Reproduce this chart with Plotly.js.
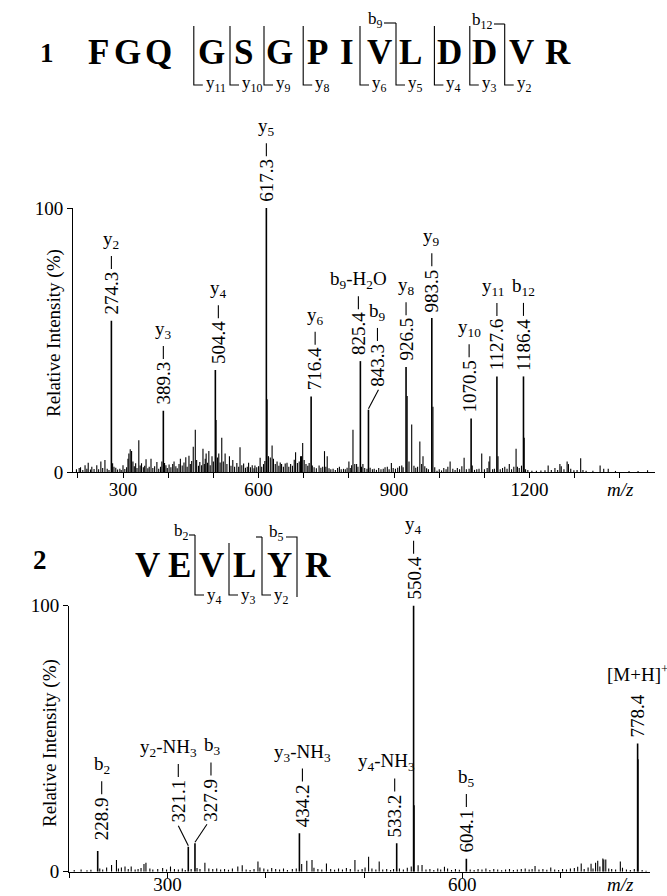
<!DOCTYPE html>
<html><head><meta charset="utf-8">
<script src="https://cdn.plot.ly/plotly-3.0.1.min.js"></script>
<style>html,body{margin:0;padding:0;background:#fff}</style>
</head><body><div id="chart" style="width:667px;height:896px"></div>
<script>
// ---------------- DATA ----------------
// Spectrum 1 : FGQGSGPIVLDDVR
const s1LabeledMz  = [274.3, 389.3, 504.4, 617.3, 716.4, 825.4, 843.3, 926.5, 983.5, 1070.5, 1127.6, 1186.4];
const s1LabeledInt = [57.3, 23.2, 38.6, 100, 28.6, 42.0, 23.6, 39.8, 58.3, 20.3, 36.2, 36.2];
const s1LabelText  = ['274.3','389.3','504.4','617.3','716.4','825.4','843.3','926.5','983.5','1070.5','1127.6','1186.4'];
const s1IonText    = ['y<sub>2</sub>','y<sub>3</sub>','y<sub>4</sub>','y<sub>5</sub>','y<sub>6</sub>','b<sub>9</sub>-H<sub>2</sub>O','b<sub>9</sub>','y<sub>8</sub>','y<sub>9</sub>','y<sub>10</sub>','y<sub>11</sub>','b<sub>12</sub>'];
const s1NoiseMz  = [197,203,206,211,216,220,223,228,231,236,242,246,251,255,260,265,269,277,280,284,288,293,296,300,304,308,311,313,316,319,322,325,328,331,335,338,341,345,348,351,355,358,362,366,370,375,379,383,386,392,395,398,402,406,410,413,417,420,424,427,431,435,439,442,446,449,452,455.5,460,463,467,470,474,477,480,482,484,487,490,493,497,500,506,509,512,515,518.6,522,526,530,535.6,539,543,547,552,556,559,563,567,571,575,578,582,586,590,592,596,600,603.5,607,611,614,619,622,626,630,633,637,641,645,648,651,655,659,663,667,671,675,679,682,686,690,693,695,697.7,701,705,709,712,719,723,728,734,738,742,746,749,752,756,760,765,770,775,779,783,788,792,796,800,803,806,809,813,817,820,828,831,835,840,847,852,856,861,866,871,876,880,885,889,894,898,903,908,912,917,920,929,933,939,944,948,952,957,961,964,968,972,976,986,990,995,1000,1005,1010,1015,1019,1024,1030,1035,1040,1045,1050,1055,1060,1066,1073,1078,1083,1088,1094,1100,1106,1110,1112,1118,1122,1130,1135,1140,1145,1150,1155,1160,1165,1170,1173,1177,1182,1188,1191,1196,1205,1215,1225,1234,1241,1248,1256,1262,1267,1270,1276,1283,1286,1291,1298,1305,1313,1318,1325,1340,1356,1364,1374,1390,1420,1440,1461];
const s1NoiseInt = [1.0,1.5,1.8,0.8,2.6,1.2,3.5,0.9,2.0,1.1,2.6,1.0,4.0,1.5,4.5,1.2,0.8,3.3,2.0,1.6,0.9,1.2,0.8,2.6,1.1,1.8,5.0,7.0,8.6,8.0,4.0,2.2,3.3,1.5,12.0,2.5,3.3,1.8,2.4,4.8,1.4,2.0,5.0,1.5,2.2,3.8,1.2,2.0,4.0,3.4,2.6,1.5,2.8,1.8,3.0,4.0,2.2,1.4,3.0,5.0,2.5,3.6,5.6,2.0,6.2,3.0,4.2,9.6,16.0,4.5,2.4,3.8,2.6,8.8,3.0,5.0,7.0,3.5,8.0,2.6,6.0,4.0,19.7,5.5,7.0,3.6,13.0,4.0,7.0,3.0,6.0,2.4,4.5,2.0,3.4,2.0,9.4,2.6,3.2,1.6,2.0,3.5,1.8,2.6,1.4,2.5,1.8,2.2,5.4,2.0,3.0,4.2,27.6,6.0,5.5,10.0,5.0,3.0,4.0,2.4,3.6,3.0,2.0,3.2,3.5,2.0,3.0,2.4,4.6,7.5,3.4,4.0,6.0,6.0,11.0,4.5,3.0,2.4,3.4,2.5,1.8,1.4,2.5,1.6,2.0,7.9,2.0,6.0,1.4,1.0,1.2,0.8,1.5,2.0,1.0,1.2,1.0,1.6,4.0,1.5,2.6,16.0,3.0,3.0,2.0,2.0,3.0,1.5,1.2,1.6,1.0,1.2,0.8,1.5,1.0,1.2,1.8,2.0,1.0,3.4,1.5,1.2,1.6,2.2,2.5,1.8,28.8,4.0,18.0,2.4,1.6,2.0,11.6,3.0,6.0,2.2,1.4,1.0,24.7,1.8,0.5,1.0,0.6,1.5,1.0,2.0,4.0,1.2,0.8,1.5,1.0,2.2,5.4,1.0,1.2,2.5,0.8,1.0,1.2,7.0,1.0,1.5,4.0,6.0,1.0,1.2,6.0,1.0,1.5,2.0,1.2,3.0,1.0,2.0,8.8,2.0,1.5,2.4,13.0,1.0,0.8,0.5,0.5,0.6,0.7,2.5,0.8,1.5,0.8,3.0,2.2,1.0,4.0,3.0,1.2,0.7,0.8,5.2,0.8,0.5,0.5,2.5,1.2,1.2,0.4,0.4,0.4,0.7];

// Spectrum 2 : VEVLYR
const s2LabeledMz  = [228.9, 321.1, 327.9, 434.2, 533.2, 550.4, 604.1, 778.4];
const s2LabeledInt = [7.8, 9.4, 10.7, 14.4, 10.7, 100, 4.9, 48.2];
const s2LabelText  = ['228.9','321.1','327.9','434.2','533.2','550.4','604.1','778.4'];
const s2IonText    = ['b<sub>2</sub>','y<sub>2</sub>-NH<sub>3</sub>','b<sub>3</sub>','y<sub>3</sub>-NH<sub>3</sub>','y<sub>4</sub>-NH<sub>3</sub>','y<sub>4</sub>','b<sub>5</sub>','[M+H]<sup>+</sup>'];
const s2NoiseMz  = [205,212,218,222,231,234,238,243,248,250,253,256.7,260,263,267,270,273,276,278,282,285,290,295,299,303,307,311,315,318,324,330,333,338,342,346,350,354,358,362,366,371.5,376,380,384,388,392,394,398,402,406,410,414,418,422,427,431,436.5,441.7,447,449,453,457,461.7,466,470,474,478,482,486,490.7,494,498,501,504.6,508,512,515.4,519,523,527,530,536,540,544,548,551,555,559,563,567,571,575,578,581.8,585,589,593,597,608,612,616,620,624,628,632,636,640,644,648,652,656,660,664,668,671,674,678,682,686,690,694,698,702,706,710,714,717.4,721,724,728,731,733,735.6,737.8,740,743,744,746,749,752,756,760.8,763,767,771,775,778.9,783,787];
const s2NoiseInt = [0.6,0.8,0.5,0.7,1.2,0.8,1.6,2.5,4.4,1.2,1.6,2.0,1.0,2.0,0.8,1.0,1.4,2.9,3.4,1.2,0.8,1.0,1.4,0.8,2.0,1.0,0.8,1.2,0.6,1.0,1.4,1.0,3.4,1.2,1.0,1.2,0.8,1.0,0.7,1.2,2.0,2.4,0.8,0.6,1.0,3.8,1.6,1.2,0.8,1.4,1.0,0.8,1.2,0.6,1.0,1.2,2.9,4.1,4.4,1.5,1.0,0.8,3.1,1.0,0.7,1.2,0.8,1.4,1.0,4.4,0.7,1.0,1.6,5.6,1.2,0.8,3.8,0.8,1.0,0.6,1.0,1.2,0.8,1.5,2.0,25.0,2.4,2.5,0.8,1.0,0.6,1.2,0.8,1.9,1.2,0.6,1.0,0.7,0.8,0.6,1.0,0.8,1.2,0.6,1.0,0.8,0.5,0.8,1.0,0.6,0.8,1.0,1.2,0.8,1.0,2.1,0.8,1.0,0.7,1.6,0.8,0.6,1.0,0.8,1.2,1.4,1.9,3.1,1.0,1.6,3.0,1.2,3.4,4.1,2.0,5.0,4.6,4.6,1.2,1.0,0.8,3.8,1.5,0.8,0.6,1.0,42.2,0.6,0.4];

// Peptide sequences and fragment ions
const seq1 = ['F','G','Q','G','S','G','P','I','V','L','D','D','V','R'];
const seq1YIons = ['y<sub>11</sub>','y<sub>10</sub>','y<sub>9</sub>','y<sub>8</sub>','y<sub>6</sub>','y<sub>5</sub>','y<sub>4</sub>','y<sub>3</sub>','y<sub>2</sub>'];
const seq1BIons = ['b<sub>9</sub>','b<sub>12</sub>'];
const seq2 = ['V','E','V','L','Y','R'];
const seq2YIons = ['y<sub>4</sub>','y<sub>3</sub>','y<sub>2</sub>'];
const seq2BIons = ['b<sub>2</sub>','b<sub>5</sub>'];

// ---------------- LAYOUT HELPERS ----------------
const W = 667, H = 896;
const px = x => x / W;
const py = y => (H - y) / H;
const FONT = 'Liberation Serif, Times New Roman, serif';
const cv = document.createElement('canvas').getContext('2d');
function textW(str, size) { cv.font = size + 'px "Liberation Serif"'; return cv.measureText(str).width; }

function sticks(mz, inten) {
  const x = [], y = [];
  mz.forEach((m, i) => { x.push(m, m, null); y.push(0, inten[i], null); });
  return {x, y};
}

const annotations = [];
const shapes = [];
const LINE = {color:'#000', width:1.1};

// yDomRef: e.g. 'y domain' so that dash marks above the plot area are not clipped (y range is 0..100)
function peakLabels(mz, inten, labels, ions, xa, ya, yDomRef, styles) {
  mz.forEach((m, i) => {
    const st = styles[i] || {};
    const gap = st.gap !== undefined ? st.gap : 4;
    const dx = st.dx || 0;
    const lead = st.lead || null;
    const ly = lead ? lead[1] : 0;
    const len = textW(labels[i], 19) + 2;
    const yFrac = inten[i] / 100;
    if (lead) {
      shapes.push({type:'line', xref:xa, yref:yDomRef, xsizemode:'pixel', ysizemode:'pixel',
        xanchor:m, yanchor:yFrac, x0:0, y0:1, x1:lead[0], y1:lead[1], line:LINE});
    }
    annotations.push({xref:xa, yref:ya, x:m, y:inten[i], text:labels[i], textangle:-90, showarrow:false,
      xanchor:'center', yanchor:'bottom', xshift:dx, yshift:gap + ly, font:{size:19}});
    let top = gap + ly + len;
    if (!st.nodash) {
      const d0 = top + (st.dashGap !== undefined ? st.dashGap : 3);
      const dl = st.dashLen || 13;
      shapes.push({type:'line', xref:xa, yref:yDomRef, xsizemode:'pixel', ysizemode:'pixel',
        xanchor:m, yanchor:yFrac, x0:dx, x1:dx, y0:d0, y1:d0 + dl, line:LINE});
      top = d0 + dl;
    }
    annotations.push({xref:xa, yref:ya, x:m, y:inten[i], text:ions[i], showarrow:false,
      xanchor:'center', yanchor:'bottom', xshift:dx + (st.ionDx || 0), yshift:top + 2 + (st.ionGap || 0), font:{size:19}});
  });
}

peakLabels(s1LabeledMz, s1LabeledInt, s1LabelText, s1IonText, 'x', 'y', 'y domain', {
  2:{dx:3}, 4:{dx:4}, 5:{dx:-2}, 6:{lead:[10,20], dx:9, gap:1}, 9:{dx:-2}, 10:{ionDx:-4}
});
peakLabels(s2LabeledMz, s2LabeledInt, s2LabelText, s2IonText, 'x2', 'y2', 'y2 domain', {
  0:{dx:4, gap:9}, 1:{lead:[-10,21], dx:-10, gap:1, ionDx:-10}, 2:{lead:[12,19], dx:16, gap:1, ionDx:2},
  3:{dx:3}, 4:{dx:-2, ionDx:-8}, 7:{nodash:true, ionGap:6}
});

// sequence 1 graphics
const seq1X = [98,127.8,158.4,211.7,243.6,279.8,317.3,347,379,411,449.3,484.2,521.7,558];
seq1.forEach((c, i) => annotations.push({xref:'paper', yref:'paper', x:px(seq1X[i]), y:py(53), text:'<b>'+c+'</b>',
  showarrow:false, xanchor:'center', yanchor:'middle', font:{size:35}}));
annotations.push({xref:'paper', yref:'paper', x:px(47), y:py(53), text:'<b>1</b>', showarrow:false, xanchor:'center', yanchor:'middle', font:{size:27}});
const br1X = [193.8,230,264,303.2,360,396,434.4,469.8,504.7];
const br1Top = [26,26,26,26,26,23,26,26,24];
br1X.forEach((x, i) => {
  shapes.push({type:'path', xref:'paper', yref:'paper', path:`M${px(x)},${py(br1Top[i])} L${px(x)},${py(85)} L${px(x+9)},${py(85)}`, line:LINE});
  annotations.push({xref:'paper', yref:'paper', x:px(x+10), y:py(84), text:seq1YIons[i], showarrow:false, xanchor:'left', yanchor:'middle', font:{size:17}});
});
[[375,384,396,23],[482,494,504.7,24]].forEach((b, i) => {
  shapes.push({type:'line', xref:'paper', yref:'paper', x0:px(b[1]), x1:px(b[2]), y0:py(b[3]), y1:py(b[3]), line:LINE});
  annotations.push({xref:'paper', yref:'paper', x:px(b[0]), y:py(b[3]-3), text:seq1BIons[i], showarrow:false, xanchor:'center', yanchor:'middle', font:{size:17}});
});

// sequence 2 graphics
const seq2X = [147.8,179.7,211.7,244.5,279,318];
seq2.forEach((c, i) => annotations.push({xref:'paper', yref:'paper', x:px(seq2X[i]), y:py(565), text:'<b>'+c+'</b>',
  showarrow:false, xanchor:'center', yanchor:'middle', font:{size:35}}));
annotations.push({xref:'paper', yref:'paper', x:px(39.5), y:py(560), text:'<b>2</b>', showarrow:false, xanchor:'center', yanchor:'middle', font:{size:27}});
const br2X = [195,229,262];
const br2Top = [535,543,537];
br2X.forEach((x, i) => {
  shapes.push({type:'path', xref:'paper', yref:'paper', path:`M${px(x)},${py(br2Top[i])} L${px(x)},${py(595)} L${px(x+9)},${py(595)}`, line:LINE});
  annotations.push({xref:'paper', yref:'paper', x:px(x+10), y:py(596), text:seq2YIons[i], showarrow:false, xanchor:'left', yanchor:'middle', font:{size:17}});
});
shapes.push({type:'path', xref:'paper', yref:'paper', path:`M${px(297)},${py(597)} L${px(297)},${py(537)} L${px(286)},${py(537)}`, line:LINE});
shapes.push({type:'line', xref:'paper', yref:'paper', x0:px(189), x1:px(195), y0:py(535), y1:py(535), line:LINE});
shapes.push({type:'line', xref:'paper', yref:'paper', x0:px(256), x1:px(262), y0:py(537), y1:py(537), line:LINE});
annotations.push({xref:'paper', yref:'paper', x:px(182), y:py(532), text:seq2BIons[0], showarrow:false, xanchor:'center', yanchor:'middle', font:{size:17}});
annotations.push({xref:'paper', yref:'paper', x:px(276), y:py(533), text:seq2BIons[1], showarrow:false, xanchor:'center', yanchor:'middle', font:{size:17}});

// axis titles and m/z
annotations.push({xref:'paper', yref:'paper', x:px(54), y:py(333), text:'Relative Intensity (%)', textangle:-90, showarrow:false, xanchor:'center', yanchor:'middle', font:{size:19}});
annotations.push({xref:'paper', yref:'paper', x:px(50), y:py(743), text:'Relative Intensity (%)', textangle:-90, showarrow:false, xanchor:'center', yanchor:'middle', font:{size:19}});
annotations.push({xref:'paper', yref:'paper', x:px(620), y:py(489), text:'<i>m/z</i>', showarrow:false, xanchor:'center', yanchor:'middle', font:{size:19}});
annotations.push({xref:'paper', yref:'paper', x:px(620), y:py(884), text:'<i>m/z</i>', showarrow:false, xanchor:'center', yanchor:'middle', font:{size:19}});

const st1L = sticks(s1LabeledMz, s1LabeledInt), st1N = sticks(s1NoiseMz, s1NoiseInt);
const st2L = sticks(s2LabeledMz, s2LabeledInt), st2N = sticks(s2NoiseMz, s2NoiseInt);
const traces = [
  {type:'scatter', mode:'lines', x:st1N.x, y:st1N.y, xaxis:'x', yaxis:'y', line:{color:'#000', width:1.1}, hoverinfo:'skip'},
  {type:'scatter', mode:'lines', x:st1L.x, y:st1L.y, xaxis:'x', yaxis:'y', line:{color:'#000', width:1.6}, hoverinfo:'skip'},
  {type:'scatter', mode:'lines', x:st2N.x, y:st2N.y, xaxis:'x2', yaxis:'y2', line:{color:'#000', width:1.1}, hoverinfo:'skip'},
  {type:'scatter', mode:'lines', x:st2L.x, y:st2L.y, xaxis:'x2', yaxis:'y2', line:{color:'#000', width:1.6}, hoverinfo:'skip'}
];

const xBase = {showline:true, linecolor:'#000', linewidth:1.3, showgrid:false, zeroline:false, ticks:'outside', ticklen:5, tickwidth:1, tickcolor:'#000',
  tickfont:{size:19, family:FONT, color:'#000'}, tickmode:'linear', tick0:0, dtick:300,
  minor:{ticks:'outside', ticklen:5, tickwidth:1, tickcolor:'#000', dtick:100, tick0:0, showgrid:false}};
const yBase = {showline:true, linecolor:'#000', linewidth:1.3, showgrid:false, zeroline:false, ticks:'outside', ticklen:5, tickwidth:1, tickcolor:'#000',
  tickfont:{size:19, family:FONT, color:'#000'}, tickmode:'array', tickvals:[0,100], range:[0,100]};

const layout = {
  width:W, height:H, margin:{l:0, r:0, t:0, b:0}, paper_bgcolor:'#fff', plot_bgcolor:'rgba(0,0,0,0)', showlegend:false,
  font:{family:FONT, color:'#000', size:19},
  xaxis:Object.assign({}, xBase, {domain:[px(73.3), px(655)], range:[190, 1477.5], anchor:'y', ticklabelstandoff:-5}),
  yaxis:Object.assign({}, yBase, {domain:[py(472), py(208)], anchor:'x'}),
  xaxis2:Object.assign({}, xBase, {domain:[px(69.3), px(650)], range:[200, 791], anchor:'y2', ticklabelstandoff:-10}),
  yaxis2:Object.assign({}, yBase, {domain:[py(871.7), py(605.5)], anchor:'x2'}),
  annotations, shapes
};
Plotly.newPlot('chart', traces, layout, {staticPlot:true});
</script></body></html>
